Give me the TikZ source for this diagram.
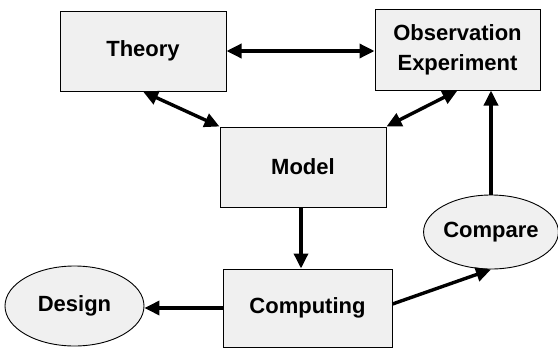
\documentclass[tikz,border=0pt]{standalone}
\usepackage{fontspec}
\setmainfont{Liberation Sans}
\usetikzlibrary{arrows.meta,shapes.geometric}
\begin{document}
\begin{tikzpicture}[x=1pt,y=-1pt,
  every node/.style={font=\fontsize{22}{30}\selectfont\bfseries, align=center, inner sep=0pt},
  blockbox/.style={draw=black, line width=1pt, fill=black!6, rectangle},
  ovalbox/.style={draw=black, line width=0.9pt, fill=black!6, ellipse},
  link/.style={line width=3.4pt, -{Triangle[length=15pt,width=14pt]}},
  dlink/.style={line width=3.4pt, {Triangle[length=15pt,width=14pt]}-{Triangle[length=15pt,width=14pt]}}]
  \useasboundingbox (0,0) rectangle (558,349);
  % boxes
  \node[blockbox, minimum width=166pt, minimum height=80pt] (theory) at (143,51) {Theory};
  \node[blockbox, minimum width=165pt, minimum height=81pt] (obs) at (457.5,49.5) {Observation\\Experiment};
  \node[blockbox, minimum width=166pt, minimum height=80pt] (model) at (303,167) {Model};
  \node[blockbox, minimum width=169pt, minimum height=78pt] (comp) at (307.5,308) {Computing};
  % ellipses
  \node[ovalbox, minimum width=139pt, minimum height=80pt] (design) at (74.5,306) {Design};
  \node[ovalbox, minimum width=132pt, minimum height=74pt] (compare) at (491,232) {Compare};
  % connectors
  \draw[dlink] (theory.east) -- (obs.west |- theory.east);
  \draw[dlink] (theory.south) -- (model.north west);
  \draw[dlink] (obs.south) -- (model.north east);
  \draw[link] ([xshift=-2pt]model.south) -- ([xshift=-2pt]model.south |- comp.north);
  \draw[link] (comp.west) -- (design.east |- comp.west);
  \draw[link] ([yshift=4pt]comp.east) -- (compare.south);
  \draw[link] (compare.north) -- (compare.north |- obs.south);
\end{tikzpicture}
\end{document}
